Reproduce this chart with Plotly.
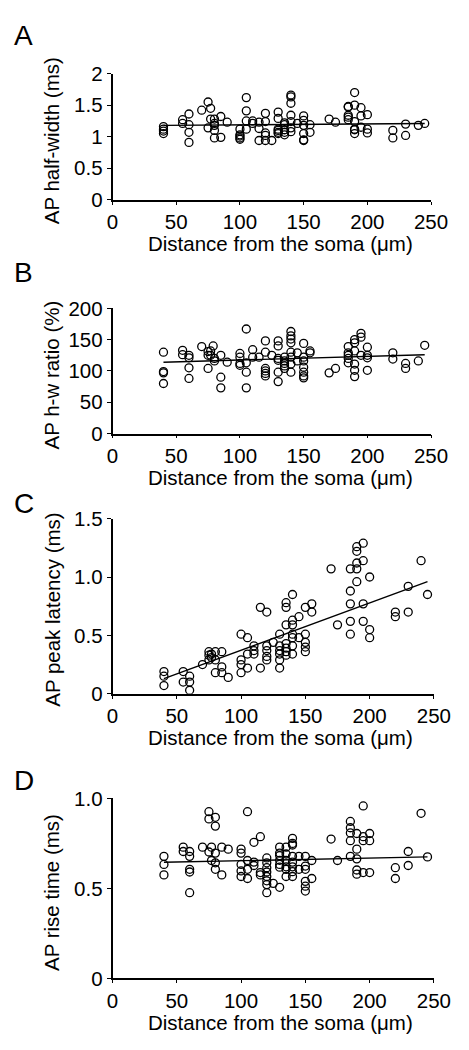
import plotly.graph_objects as go

W, H = 469, 1050
FONT = "Liberation Sans, Arial, sans-serif"
FS = 20.5

# ---------------- Data ----------------
# Panel A: AP half-width (ms)
a_x = [40, 40, 40, 40, 55, 55, 60, 60, 60, 60, 70, 75, 75, 77, 77,
       80, 80, 80, 80, 80, 85, 85, 90, 100, 100, 100, 100, 100,
       105, 105, 105, 105, 110, 110, 115, 115, 115, 120, 120, 120, 120, 120,
       125, 130, 130, 130, 130, 130, 130, 135, 135, 135, 135, 135,
       140, 140, 140, 140, 140, 140, 140, 145, 150, 150, 150, 150, 150, 150,
       155, 155, 170, 175, 185, 185, 185, 185, 185,
       190, 190, 190, 190, 190, 190, 195, 195, 195, 200, 200, 200,
       220, 220, 230, 230, 240, 245]
a_y = [1.16, 1.12, 1.09, 1.05, 1.27, 1.21, 1.36, 1.19, 1.07, 0.91, 1.42, 1.55, 1.14, 1.45, 1.28,
       1.28, 1.21, 1.18, 1.10, 0.98, 1.32, 0.99, 1.23, 1.12, 1.03, 1.01, 0.98, 0.96,
       1.62, 1.41, 1.25, 1.12, 1.25, 1.21, 1.23, 1.13, 0.94, 1.37, 1.24, 1.06, 1.02, 0.94,
       0.94, 1.39, 1.29, 1.12, 1.10, 1.07, 1.05, 1.22, 1.19, 1.11, 1.07, 1.03,
       1.66, 1.63, 1.53, 1.34, 1.24, 1.14, 1.08, 1.21, 1.33, 1.26, 1.18, 1.05, 0.95, 0.94,
       1.19, 1.07, 1.28, 1.23, 1.48, 1.47, 1.34, 1.31, 1.27,
       1.70, 1.50, 1.24, 1.12, 1.11, 1.05, 1.46, 1.33, 1.15, 1.35, 1.12, 1.06,
       1.10, 0.98, 1.20, 1.02, 1.18, 1.21]
a_fit_x = [40, 245]
a_fit_y = [1.18, 1.21]

# Panel B: AP h-w ratio (%)
b_x = [40, 40, 40, 40, 55, 55, 60, 60, 60, 60, 70, 75, 75, 75, 77, 77, 79, 80, 80,
       85, 85, 85, 90, 100, 100, 100, 100, 105, 105, 105, 105, 110, 110, 115,
       120, 120, 120, 120, 120, 120, 125, 130, 130, 130, 130, 130, 130,
       135, 135, 135, 135, 135, 140, 140, 140, 140, 140, 140, 140, 140,
       145, 145, 150, 150, 150, 150, 150, 150, 150, 155, 155, 170, 175,
       185, 185, 185, 185, 185, 190, 190, 190, 190, 190, 190, 195, 195, 195,
       200, 200, 200, 200, 220, 220, 230, 230, 240, 245]
b_y = [130, 99, 97, 80, 133, 126, 125, 121, 105, 88, 139, 131, 125, 104, 132, 125, 140, 120, 116,
       125, 90, 73, 114, 128, 122, 112, 109, 167, 113, 98, 73, 134, 122, 122,
       148, 130, 104, 100, 96, 92, 125, 148, 140, 120, 117, 98, 83,
       122, 116, 112, 108, 104, 163, 156, 151, 145, 130, 122, 111, 98,
       129, 116, 144, 122, 116, 106, 98, 92, 89, 132, 129, 97, 104,
       139, 129, 125, 120, 113, 150, 145, 132, 111, 101, 91, 160, 154, 125,
       138, 125, 121, 101, 129, 119, 112, 104, 116, 141]
b_fit_x = [40, 245]
b_fit_y = [114, 126]

# Panel C: AP peak latency (ms)
c_x = [40, 40, 40, 55, 55, 60, 60, 60, 70, 75, 75, 75, 77, 77, 80, 80, 80,
       85, 85, 85, 90, 100, 100, 100, 100, 105, 105, 105, 110, 110, 110, 115, 115,
       120, 120, 120, 120, 120, 125, 130, 130, 130, 130, 130, 130,
       135, 135, 135, 135, 135, 135, 135, 140, 140, 140, 140, 140, 140, 140,
       145, 145, 150, 150, 150, 150, 150, 155, 155, 170, 175,
       185, 185, 185, 185, 185, 190, 190, 190, 190, 190, 195, 195, 195, 195,
       200, 200, 200, 220, 220, 230, 230, 240, 245]
c_y = [0.19, 0.15, 0.07, 0.19, 0.10, 0.15, 0.10, 0.03, 0.25, 0.36, 0.33, 0.29, 0.34, 0.31, 0.36, 0.29, 0.18,
       0.36, 0.23, 0.18, 0.14, 0.51, 0.29, 0.25, 0.18, 0.48, 0.34, 0.22, 0.41, 0.37, 0.34, 0.74, 0.22,
       0.70, 0.41, 0.37, 0.32, 0.29, 0.44, 0.51, 0.41, 0.37, 0.34, 0.29, 0.22,
       0.78, 0.74, 0.59, 0.43, 0.39, 0.36, 0.33, 0.85, 0.63, 0.59, 0.51, 0.48, 0.41, 0.34,
       0.66, 0.48, 0.74, 0.51, 0.44, 0.40, 0.36, 0.77, 0.70, 1.07, 0.59,
       1.07, 0.88, 0.77, 0.62, 0.51, 1.26, 1.22, 1.12, 1.07, 0.96, 1.29, 1.14, 0.77, 0.62,
       1.00, 0.55, 0.48, 0.70, 0.66, 0.92, 0.70, 1.14, 0.85]
c_fit_x = [40, 245]
c_fit_y = [0.13, 0.96]

# Panel D: AP rise time (ms)
d_x = [40, 40, 40, 55, 55, 60, 60, 60, 60, 60, 70, 75, 75, 75, 77, 77,
       80, 80, 80, 80, 80, 85, 85, 90, 100, 100, 100, 100, 100,
       105, 105, 105, 105, 110, 110, 110, 115, 115, 115,
       120, 120, 120, 120, 120, 120, 120, 120, 125,
       130, 130, 130, 130, 130, 130, 130, 135, 135, 135, 135, 135, 135,
       140, 140, 140, 140, 140, 140, 140, 140, 145, 145,
       150, 150, 150, 150, 150, 150, 155, 155, 170, 175,
       185, 185, 185, 185, 185, 190, 190, 190, 190, 190, 195, 195, 195, 195,
       200, 200, 200, 220, 220, 230, 230, 240, 245]
d_y = [0.678, 0.633, 0.575, 0.729, 0.705, 0.705, 0.678, 0.606, 0.591, 0.476, 0.729, 0.926, 0.886, 0.702, 0.729, 0.655,
       0.895, 0.846, 0.696, 0.642, 0.606, 0.729, 0.575, 0.718, 0.718, 0.696, 0.633, 0.597, 0.566,
       0.926, 0.655, 0.606, 0.555, 0.756, 0.646, 0.627, 0.787, 0.588, 0.575,
       0.669, 0.642, 0.615, 0.591, 0.566, 0.542, 0.521, 0.476, 0.528,
       0.729, 0.696, 0.682, 0.656, 0.633, 0.618, 0.506, 0.729, 0.691, 0.656, 0.620, 0.606, 0.566,
       0.778, 0.750, 0.741, 0.678, 0.646, 0.620, 0.593, 0.566, 0.678, 0.606,
       0.678, 0.624, 0.606, 0.539, 0.512, 0.485, 0.655, 0.555, 0.774, 0.655,
       0.872, 0.837, 0.808, 0.765, 0.678, 0.805, 0.718, 0.664, 0.602, 0.579, 0.958, 0.787, 0.765, 0.588,
       0.805, 0.765, 0.588, 0.615, 0.555, 0.705, 0.627, 0.917, 0.675]
d_fit_x = [40, 245]
d_fit_y = [0.645, 0.675]

x_ticks = [0, 50, 100, 150, 200, 250]
x_title = "Distance from the soma (\u03bcm)"

panels = [
    dict(letter="A", x=a_x, y=a_y, fx=a_fit_x, fy=a_fit_y, yrange=[0, 2],
         yticks=[0, 0.5, 1, 1.5, 2], ytext=["0", "0.5", "1", "1.5", "2"],
         ytitle="AP half-width (ms)", px=(112, 447), py=(63, 192), letter_y=24),
    dict(letter="B", x=b_x, y=b_y, fx=b_fit_x, fy=b_fit_y, yrange=[0, 200],
         yticks=[0, 50, 100, 150, 200], ytext=["0", "50", "100", "150", "200"],
         ytitle="AP h-w ratio (%)", px=(112, 447), py=(303, 431), letter_y=266),
    dict(letter="C", x=c_x, y=c_y, fx=c_fit_x, fy=c_fit_y, yrange=[0, 1.5],
         yticks=[0, 0.5, 1.0, 1.5], ytext=["0", "0.5", "1.0", "1.5"],
         ytitle="AP peak latency (ms)", px=(112, 450), py=(518, 697), letter_y=503),
    dict(letter="D", x=d_x, y=d_y, fx=d_fit_x, fy=d_fit_y, yrange=[0, 1.0],
         yticks=[0, 0.5, 1.0], ytext=["0", "0.5", "1.0"],
         ytitle="AP rise time (ms)", px=(112, 450), py=(804, 988), letter_y=786),
]

fig = go.Figure()
annotations = []
layout_axes = {}

for i, p in enumerate(panels, start=1):
    xa = "x" if i == 1 else f"x{i}"
    ya = "y" if i == 1 else f"y{i}"
    fig.add_trace(go.Scatter(
        x=p["x"], y=p["y"], mode="markers", xaxis=xa, yaxis=ya,
        marker=dict(symbol="circle-open", size=8, color="black", line=dict(width=1.3, color="black")),
        showlegend=False, hoverinfo="skip"))
    fig.add_trace(go.Scatter(
        x=p["fx"], y=p["fy"], mode="lines", xaxis=xa, yaxis=ya,
        line=dict(color="black", width=1.4), showlegend=False, hoverinfo="skip"))

    x0, x1 = p["px"]
    yt, yb = p["py"]
    xdom = [x0 / W, x1 / W]
    ydom = [1 - yb / H, 1 - yt / H]
    xkey = "xaxis" if i == 1 else f"xaxis{i}"
    ykey = "yaxis" if i == 1 else f"yaxis{i}"
    layout_axes[xkey] = dict(
        domain=xdom, range=[0, 250], anchor=ya, showgrid=False, zeroline=False,
        showline=True, linecolor="black", linewidth=1.6,
        ticks="outside", ticklen=3, tickwidth=1.2, tickcolor="black",
        tickvals=x_ticks, ticktext=[str(t) for t in x_ticks],
        tickfont=dict(family=FONT, size=FS, color="black"), fixedrange=True)
    layout_axes[ykey] = dict(
        domain=ydom, range=p["yrange"], anchor=xa, showgrid=False, zeroline=False,
        showline=True, linecolor="black", linewidth=1.6,
        ticks="outside", ticklen=4, tickwidth=1.2, tickcolor="black",
        tickvals=p["yticks"], ticktext=p["ytext"],
        tickfont=dict(family=FONT, size=FS, color="black"), fixedrange=True)

    # x axis title
    annotations.append(dict(
        text=x_title, xref="paper", yref="paper",
        x=289 / W, y=1 - (yb + 45) / H, xanchor="center", yanchor="middle",
        showarrow=False, font=dict(family=FONT, size=FS, color="black")))
    # y axis title
    annotations.append(dict(
        text=p["ytitle"], xref="paper", yref="paper", textangle=-90,
        x=48 / W, y=1 - ((yt + yb) / 2 + 4) / H, xanchor="center", yanchor="middle",
        showarrow=False, font=dict(family=FONT, size=FS, color="black")))
    # panel letter
    annotations.append(dict(
        text=p["letter"], xref="paper", yref="paper",
        x=6 / W, y=1 - p["letter_y"] / H, xanchor="left", yanchor="middle",
        showarrow=False, font=dict(family=FONT, size=28, color="black")))

fig.update_layout(
    width=W, height=H,
    margin=dict(l=0, r=0, t=0, b=0),
    paper_bgcolor="white", plot_bgcolor="white",
    font=dict(family=FONT, size=FS, color="black"),
    annotations=annotations,
    **layout_axes)

fig.write_html("out.html", config={"displayModeBar": False},
               post_script="document.body.style.margin='0';document.body.style.overflow='hidden';")
